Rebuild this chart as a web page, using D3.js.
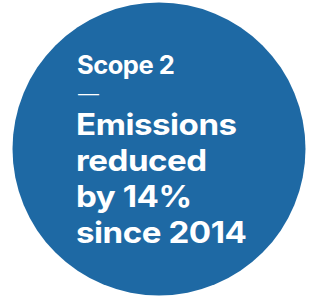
<!DOCTYPE html>
<html><head><meta charset="utf-8">
<script src="https://cdn.jsdelivr.net/npm/d3@7"></script>
<style>html,body{margin:0;padding:0;background:#fff;}svg{display:block;}</style>
</head><body>
<script>
const scopeLabel = ["Scope 2"];
const headlineLines = ["Emissions", "reduced", "by 14%", "since 2014"];
const W = 324, H = 297;
const svg = d3.select("body").append("svg").attr("width", W).attr("height", H);
svg.append("circle").attr("cx", 159).attr("cy", 149).attr("r", 146.5).attr("fill", "#1e69a4");
const font = "Inter, 'Open Sans', sans-serif";
svg.selectAll("text.scope").data(scopeLabel).join("text").attr("class","scope")
  .attr("x", 77).attr("y", 74).attr("fill", "#fff").attr("font-family", font)
  .attr("font-weight", 700).attr("font-size", 25.5).attr("letter-spacing", -0.5).text(d => d);
svg.append("text").attr("transform", "translate(78,99) scale(1.5,1)").attr("fill", "#fff")
  .attr("font-family", font).attr("font-weight", 400).attr("font-size", 14).text("—");
const y = d3.scalePoint().domain(headlineLines).range([135, 243]);
svg.selectAll("text.head").data(headlineLines).join("text").attr("class","head")
  .attr("transform", d => `translate(76,${y(d)}) scale(1.13,1)`)
  .attr("fill", "#fff").attr("font-family", font)
  .attr("font-weight", 700).attr("font-size", 29.3).attr("letter-spacing", -0.4).text(d => d);
</script>
</body></html>
